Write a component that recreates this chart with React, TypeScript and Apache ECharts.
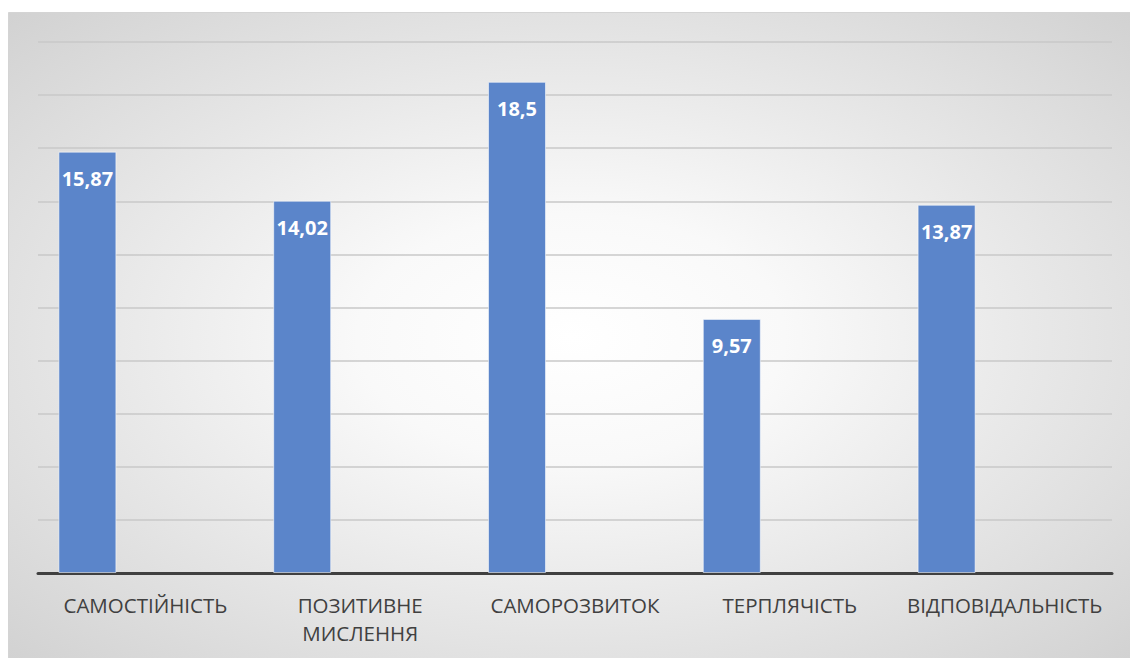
import React, { useEffect, useRef } from "react";
import * as echarts from "echarts";

const categories = ["САМОСТІЙНІСТЬ", "ПОЗИТИВНЕ\nМИСЛЕННЯ", "САМОРОЗВИТОК", "ТЕРПЛЯЧІСТЬ", "ВІДПОВІДАЛЬНІСТЬ"];
const values = [15.87, 14.02, 18.5, 9.57, 13.87];
const emptySeries = [null, null, null, null, null];

export default function App() {
  const ref = useRef<HTMLDivElement>(null);
  useEffect(() => {
    const chart = echarts.init(ref.current!, null, { renderer: "svg" });
    chart.setOption({
      animation: false,
      graphic: [
        {
          type: "rect",
          z: -10,
          silent: true,
          shape: { x: 8.5, y: 12.5, width: 1125, height: 650 },
          style: {
            fill: {
              type: "radial",
              x: 0.5,
              y: 0.5,
              r: 0.95,
              colorStops: [
                { offset: 0, color: "#ffffff" },
                { offset: 0.2, color: "#f9f9f9" },
                { offset: 1, color: "#bfbfbf" },
              ],
            },
            stroke: "#d4d4d4",
            lineWidth: 1,
          },
        },
      ],
      grid: { left: 38, right: 18, top: 42, bottom: 85, containLabel: false },
      xAxis: {
        type: "category",
        data: categories,
        axisLine: { lineStyle: { color: "#404040", width: 3 } },
        axisTick: { show: false },
        axisLabel: {
          color: "#404040",
          fontFamily: "Open Sans",
          fontSize: 20.5,
          margin: 18,
          lineHeight: 28,
          interval: 0,
        },
      },
      yAxis: {
        type: "value",
        min: 0,
        max: 20,
        interval: 2,
        axisLabel: { show: false },
        axisLine: { show: false },
        axisTick: { show: false },
        splitLine: { lineStyle: { color: "#c8c8c8", width: 1.5 } },
      },
      series: [
        {
          type: "bar",
          data: values,
          barWidth: 58,
          barGap: "100%",
          itemStyle: { color: "#5b85ca", borderColor: "rgba(255,255,255,0.55)", borderWidth: 1 },
          label: {
            show: true,
            position: "insideTop",
            distance: 17,
            color: "#ffffff",
            fontWeight: "bold",
            fontFamily: "Open Sans",
            fontSize: 20,
            formatter: (p: any) => String(p.value).replace(".", ","),
          },
        },
        {
          type: "bar",
          data: emptySeries,
          barWidth: 58,
          barGap: "100%",
        },
      ],
    });
    return () => chart.dispose();
  }, []);
  return (
    <div
      ref={ref}
      style={{ position: "absolute", left: 0, top: 0, width: 1130, height: 658 }}
    />
  );
}
